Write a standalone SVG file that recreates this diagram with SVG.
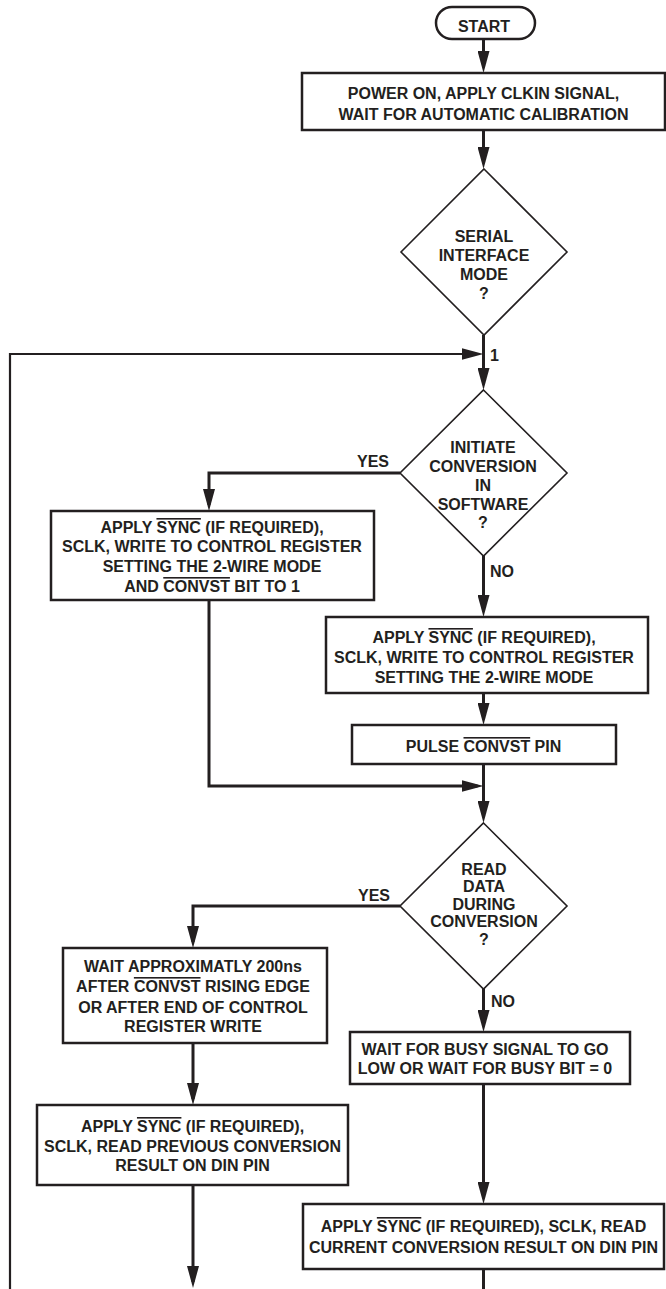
<svg xmlns="http://www.w3.org/2000/svg" width="666" height="1289" viewBox="0 0 666 1289">
<defs>
<style>
text{font-family:"Liberation Sans",Arial,Helvetica,sans-serif;font-weight:bold;font-size:16px;fill:#231f20;text-anchor:middle}
.lbl{text-anchor:start}
.box{fill:#fff;stroke:#231f20;stroke-width:2.5}
.dia{fill:#fff;stroke:#231f20;stroke-width:1.6}
.ln{fill:none;stroke:#231f20;stroke-width:3}
.fb{fill:none;stroke:#231f20;stroke-width:2.2}
.ov{text-decoration:overline}
</style>
<marker id="ah" markerUnits="userSpaceOnUse" markerWidth="22" markerHeight="12" refX="16" refY="6" orient="auto">
<path d="M0,0 L22,6 L0,12 Z" fill="#231f20"/>
</marker>
</defs>
<rect width="666" height="1289" fill="#fff"/>
<g id="connectors">
<path class="ln" d="M483.5,39 V67" marker-end="url(#ah)"/>
<path class="ln" d="M483.5,130 V163" marker-end="url(#ah)"/>
<path class="ln" d="M483.5,335 V384" marker-end="url(#ah)"/>
<path class="fb" d="M10,1289 V354 H477.5" marker-end="url(#ah)"/>
<path class="ln" d="M400,473 H209 V505" marker-end="url(#ah)"/>
<path class="ln" d="M483.5,556 V611" marker-end="url(#ah)"/>
<path class="ln" d="M483.5,693 V719" marker-end="url(#ah)"/>
<path class="ln" d="M483.5,764 V817" marker-end="url(#ah)"/>
<path class="ln" d="M209,600 V786 H477.5" marker-end="url(#ah)"/>
<path class="ln" d="M400,906 H193 V942" marker-end="url(#ah)"/>
<path class="ln" d="M483.5,989 V1026" marker-end="url(#ah)"/>
<path class="ln" d="M193,1043 V1099" marker-end="url(#ah)"/>
<path class="ln" d="M193,1185 V1282" marker-end="url(#ah)"/>
<path class="ln" d="M483.5,1084 V1198" marker-end="url(#ah)"/>
<path class="ln" d="M483.5,1269 V1289"/>
<text class="lbl" x="490" y="361">1</text>
<text x="373" y="467">YES</text>
<text class="lbl" x="490" y="577">NO</text>
<text x="374" y="901">YES</text>
<text class="lbl" x="491" y="1007">NO</text>
</g>
<g id="start">
<rect x="436" y="7" width="99" height="32" rx="16" class="box" stroke-width="2"/>
<text x="484" y="31.5">START</text>
</g>
<g id="power">
<rect class="box" x="302" y="73" width="363" height="57"/>
<text x="483.5" y="99">POWER ON, APPLY CLKIN SIGNAL,</text>
<text x="483.5" y="120">WAIT FOR AUTOMATIC CALIBRATION</text>
</g>
<g id="serial">
<polygon class="dia" points="484,169 567,252 484,335 401,252"/>
<text x="484" y="242">SERIAL</text>
<text x="484" y="261">INTERFACE</text>
<text x="484" y="280">MODE</text>
<text x="484" y="299">?</text>
</g>
<g id="initiate">
<polygon class="dia" points="483.5,390 567,473 483.5,556 400,473"/>
<text x="483" y="453">INITIATE</text>
<text x="483" y="472">CONVERSION</text>
<text x="483" y="491">IN</text>
<text x="483" y="510">SOFTWARE</text>
<text x="483" y="528">?</text>
</g>
<g id="write-convst">
<rect class="box" x="51" y="511" width="323" height="89"/>
<text x="212" y="533">APPLY <tspan class="ov">SYNC</tspan> (IF REQUIRED),</text>
<text x="212" y="552">SCLK, WRITE TO CONTROL REGISTER</text>
<text x="212" y="572">SETTING THE 2-WIRE MODE</text>
<text x="212" y="592">AND <tspan class="ov">CONVST</tspan> BIT TO 1</text>
</g>
<g id="write-2wire">
<rect class="box" x="326" y="617" width="322" height="76"/>
<text x="484" y="643">APPLY <tspan class="ov">SYNC</tspan> (IF REQUIRED),</text>
<text x="484" y="663">SCLK, WRITE TO CONTROL REGISTER</text>
<text x="484" y="683">SETTING THE 2-WIRE MODE</text>
</g>
<g id="pulse">
<rect class="box" x="352" y="725" width="264" height="39"/>
<text x="483.5" y="752">PULSE <tspan class="ov">CONVST</tspan> PIN</text>
</g>
<g id="read-during">
<polygon class="dia" points="483.5,823 567,906 483.5,989 400,906"/>
<text x="484" y="875">READ</text>
<text x="484" y="892">DATA</text>
<text x="484" y="910">DURING</text>
<text x="484" y="927">CONVERSION</text>
<text x="484" y="945">?</text>
</g>
<g id="wait200">
<rect class="box" x="63" y="948" width="264" height="95"/>
<text x="193" y="972">WAIT APPROXIMATLY 200ns</text>
<text x="193" y="992">AFTER <tspan class="ov">CONVST</tspan> RISING EDGE</text>
<text x="193" y="1013">OR AFTER END OF CONTROL</text>
<text x="193" y="1032">REGISTER WRITE</text>
</g>
<g id="read-previous">
<rect class="box" x="37" y="1105" width="311" height="80"/>
<text x="192.5" y="1132">APPLY <tspan class="ov">SYNC</tspan> (IF REQUIRED),</text>
<text x="192.5" y="1152">SCLK, READ PREVIOUS CONVERSION</text>
<text x="192.5" y="1171">RESULT ON DIN PIN</text>
</g>
<g id="wait-busy">
<rect class="box" x="350" y="1032" width="280" height="52"/>
<text x="485" y="1055">WAIT FOR BUSY SIGNAL TO GO</text>
<text x="485" y="1074">LOW OR WAIT FOR BUSY BIT = 0</text>
</g>
<g id="read-current">
<rect class="box" x="303" y="1204" width="361" height="65"/>
<text x="483.5" y="1232">APPLY <tspan class="ov">SYNC</tspan> (IF REQUIRED), SCLK, READ</text>
<text x="483.5" y="1253">CURRENT CONVERSION RESULT ON DIN PIN</text>
</g>
</svg>
